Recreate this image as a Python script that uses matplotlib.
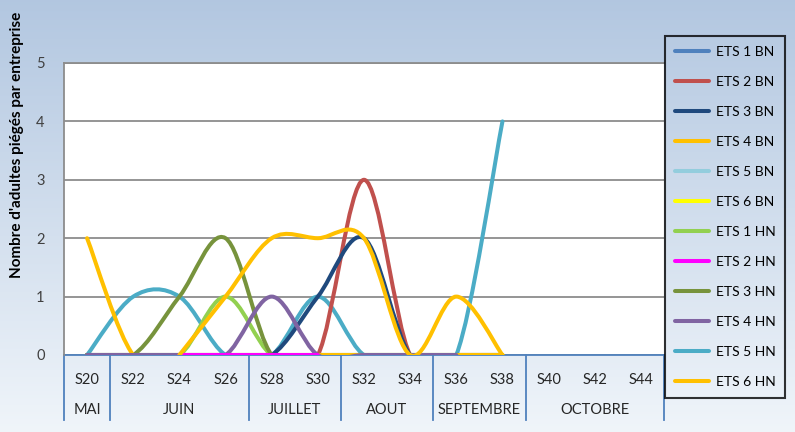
import numpy as np
import matplotlib
matplotlib.use("Agg")
import matplotlib.pyplot as plt
from matplotlib.path import Path
from matplotlib.patches import PathPatch
from matplotlib.lines import Line2D
import matplotlib.transforms as mtrans

plt.rcParams['font.family'] = ['Lato', 'DejaVu Sans']

# ---------------- data ----------------
weeks = ['S20', 'S22', 'S24', 'S26', 'S28', 'S30', 'S32', 'S34', 'S36', 'S38',
         'S40', 'S42', 'S44']
months = ['MAI', 'JUIN', 'JUILLET', 'AOUT', 'SEPTEMBRE', 'OCTOBRE']
month_span = [1, 3, 2, 2, 2, 3]   # number of weeks in each month group

nan = np.nan
ets1_bn = [0, 0, 0, 0, 0, 0, 0, 0, 0, 0]
ets2_bn = [0, 0, 0, 0, 0, 0, 3, 0, 0, 0]
ets3_bn = [0, 0, 0, 0, 0, 1, 2, 0, 0, 0]
ets4_bn = [2, 0, 0, 0, 0, 0, 0, 0, 0, 0]
ets5_bn = [0, 0, 0, 0, 0, 0, 0, 0, 0, 0]
ets6_bn = [0, 0, 0, 0, 0, 0, 0, 0, 0, 0]
ets1_hn = [0, 0, 0, 1, 0, 0, 0, 0, 0, 0]
ets2_hn = [nan, nan, 0, 0, 0, 0, nan, nan, nan, nan]
ets3_hn = [0, 0, 1, 2, 0, 0, 0, 0, 0, 0]
ets4_hn = [0, 0, 0, 0, 1, 0, 0, 0, 0, nan]
ets5_hn = [0, 1, 1, 0, 0, 1, 0, 0, 0, 4]
ets6_hn = [nan, nan, 0, 1, 2, 2, 2, 0, 1, 0]

series = [
    ('ETS 1 BN', ets1_bn, '#4F81BD', 2),
    ('ETS 2 BN', ets2_bn, '#C0504D', 4),
    ('ETS 3 BN', ets3_bn, '#1F497D', 4),
    ('ETS 4 BN', ets4_bn, '#FFC000', 5),
    ('ETS 5 BN', ets5_bn, '#93CDDD', 2),
    ('ETS 6 BN', ets6_bn, '#FFFF00', 2),
    ('ETS 1 HN', ets1_hn, '#92D050', 4),
    ('ETS 2 HN', ets2_hn, '#FF00FF', 8),
    ('ETS 3 HN', ets3_hn, '#77933C', 4),
    ('ETS 4 HN', ets4_hn, '#8064A2', 7),
    ('ETS 5 HN', ets5_hn, '#4BACC6', 3),
    ('ETS 6 HN', ets6_hn, '#FFC000', 9),
]


def smooth_path(xs, ys):
    # Excel-like smoothed line: cubic bezier through each run of valid points
    verts, codes = [], []
    runs, cur = [], []
    for px, py in zip(xs, ys):
        if np.isnan(py):
            if cur:
                runs.append(cur)
            cur = []
        else:
            cur.append(np.array((px, py), dtype=float))
    if cur:
        runs.append(cur)
    for r in runs:
        if len(r) < 2:
            continue
        verts.append(r[0])
        codes.append(Path.MOVETO)
        n = len(r)
        for i in range(n - 1):
            p0 = r[i - 1] if i > 0 else r[i]
            p1, p2 = r[i], r[i + 1]
            p3 = r[i + 2] if i + 2 < n else r[i + 1]
            verts += [p1 + (p2 - p0) / 6, p2 - (p3 - p1) / 6, p2]
            codes += [Path.CURVE4] * 3
    return Path(verts, codes)


W, H = 795, 432
fig = plt.figure(figsize=(W / 100, H / 100), dpi=100)

# gradient background
bg = fig.add_axes([0, 0, 1, 1], zorder=-10)
grad = np.linspace(0, 1, 256)[:, None]
c_top = np.array([0.70, 0.78, 0.88])
c_bot = np.array([0.94, 0.96, 0.98])
img = c_top[None, None, :] * (1 - grad[:, :, None]) + c_bot[None, None, :] * grad[:, :, None]
bg.imshow(img, aspect='auto', extent=[0, 1, 0, 1])
bg.axis('off')

ax = fig.add_axes([64 / W, 77 / H, 600 / W, 292 / H])
ax.set_facecolor('white')
ax.set_xlim(-0.5, len(weeks) - 0.5)
ax.set_ylim(0, 5)

x = np.arange(len(ets1_bn))
handles = []
for name, vals, color, z in series:
    patch = PathPatch(smooth_path(x, vals), facecolor='none', edgecolor=color,
                      lw=2.9, capstyle='round', joinstyle='round', zorder=z)
    ax.add_patch(patch)
    handles.append(Line2D([], [], color=color, lw=2.9, solid_capstyle='round'))

# grid and spines
ax.set_yticks(range(0, 6))
ax.yaxis.grid(True, color='#8C8C8C', lw=1.3)
ax.set_axisbelow(True)
ax.spines['right'].set_visible(False)
for s in ['top', 'left']:
    ax.spines[s].set_color('#8C8C8C')
    ax.spines[s].set_linewidth(1.3)
ax.spines['bottom'].set_color('#4F81BD')
ax.spines['bottom'].set_linewidth(1.3)
ax.spines['bottom'].set_zorder(1)

ax.tick_params(axis='y', length=0, pad=14, labelsize=10.5, labelcolor='#404040')
ax.set_xticks(range(len(weeks)))
ax.set_xticklabels(weeks)
ax.tick_params(axis='x', length=0, pad=13, labelsize=10.5, labelcolor='#262626')

# month grouping
trans = mtrans.blended_transform_factory(ax.transData, ax.transAxes)
edge = -0.5
bounds = [edge]
for span in month_span:
    edge += span
    bounds.append(edge)
for b in bounds:
    ax.plot([b, b], [0, -0.223], transform=trans, color='#4F81BD', lw=1.3,
            clip_on=False)
for i, m in enumerate(months):
    mid = (bounds[i] + bounds[i + 1]) / 2
    ax.text(mid, -0.19, m, transform=trans, ha='center', va='center',
            fontsize=10.5, color='#262626')

fig.text(17 / W, 1 - 145 / H, "Nombre d'adultes piégés par entreprise",
         rotation=90, ha='center', va='center', fontsize=11, fontweight='bold')

leg = fig.legend(handles, [s[0] for s in series], loc='upper left',
                 bbox_to_anchor=(665 / W, 1 - 36 / H), borderaxespad=0,
                 fontsize=10, frameon=True, fancybox=False, handlelength=2.5,
                 handletextpad=0.45, labelspacing=1.3, borderpad=0.7)
leg.get_frame().set_edgecolor('black')
leg.get_frame().set_linewidth(1.5)
leg.get_frame().set_facecolor('none')

fig.savefig('out.png', dpi=100)
